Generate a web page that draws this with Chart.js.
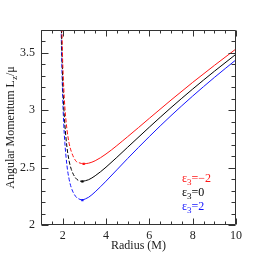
<!DOCTYPE html>
<html>
<head>
<meta charset="utf-8">
<script src="https://cdn.jsdelivr.net/npm/chart.js@4"></script>
<style>
html, body { margin: 0; padding: 0; background: #fff; }
#wrap { width: 266px; height: 266px; }
</style>
</head>
<body>
<div id="wrap"><canvas id="canvas" width="266" height="266"></canvas></div>
<script>
var xTicks = [2, 4, 6, 8, 10];
var yTicks = [2, 2.5, 3, 3.5];
var legendText = ['=\u22122', '=0', '=2'];

// unstable branch (dashed), left of the minimum
var rRedDash = [1.95, 2.0, 2.05, 2.1, 2.2, 2.3, 2.4, 2.6, 2.8, 2.97];
var redDash = [3.82, 3.43, 3.20, 3.03, 2.83, 2.71, 2.64, 2.56, 2.54, 2.533];
var rBlackDash = [1.94, 1.95, 2.0, 2.05, 2.1, 2.2, 2.3, 2.4, 2.6, 2.8, 2.91];
var blackDash = [3.76, 3.66, 3.28, 3.04, 2.88, 2.675, 2.557, 2.484, 2.409, 2.383, 2.380];
var rBlueDash = [1.93, 1.94, 1.95, 2.0, 2.05, 2.1, 2.2, 2.3, 2.4, 2.6, 2.8, 2.91];
var blueDash = [3.72, 3.60, 3.50, 3.12, 2.88, 2.72, 2.515, 2.397, 2.324, 2.249, 2.223, 2.217];

// stable branch (solid)
var rRed = [2.97, 3.2, 3.5, 4, 5, 6, 7, 8, 9, 10];
var red = [2.533, 2.539, 2.56, 2.619, 2.77, 2.93, 3.089, 3.243, 3.391, 3.535];
var rBlack = [2.91, 3.2, 3.5, 4, 5, 6, 7, 8, 9, 10];
var black = [2.380, 2.395, 2.429, 2.504, 2.678, 2.853, 3.023, 3.185, 3.340, 3.489];
var rBlue = [2.91, 3.2, 3.5, 4, 5, 6, 7, 8, 9, 10];
var blue = [2.217, 2.242, 2.289, 2.382, 2.580, 2.771, 2.953, 3.124, 3.286, 3.440];

var RED = 'rgb(255,20,20)';
var BLK = 'rgb(0,0,0)';
var BLU = 'rgb(20,20,255)';
var FONT = '"Liberation Serif", "DejaVu Serif", serif';

function pts(xs, ys) {
    return xs.map(function (x, i) { return { x: x, y: ys[i] }; });
}

function curve(color, xs, ys, dashed) {
    return {
        data: pts(xs, ys),
        borderColor: color,
        backgroundColor: color,
        borderWidth: 1,
        borderDash: dashed ? [4, 2] : [],
        pointRadius: 0,
        fill: false,
        cubicInterpolationMode: 'monotone'
    }
}

function marker(color, x, y) {
    return {
        data: [{ x: x, y: y }],
        showLine: false,
        pointStyle: 'rect',
        pointRadius: 1.6,
        borderWidth: 0,
        backgroundColor: color,
        borderColor: color
    }
}

var frame = {
    id: 'frame',
    afterDraw: function (chart) {
        var ctx = chart.ctx;
        var a = chart.chartArea;
        var xs = chart.scales.x, ys = chart.scales.y;
        var L = Math.round(a.left) + 0.5, R = Math.round(a.right) - 0.5;
        var T = Math.round(a.top) + 0.5, B = Math.round(a.bottom) - 0.5;
        ctx.save();
        ctx.strokeStyle = '#333';
        ctx.lineWidth = 1;
        ctx.beginPath();
        ctx.rect(L, T, R - L, B - T);
        // x ticks every 0.5, longer at 2,4,..
        for (var v = 1; v <= 10.001; v += 0.5) {
            var px = Math.round(xs.getPixelForValue(v)) + 0.5;
            var len = (xTicks.indexOf(v) >= 0) ? 6 : 3;
            ctx.moveTo(px, B); ctx.lineTo(px, B - len);
            ctx.moveTo(px, T); ctx.lineTo(px, T + len);
        }
        // y ticks every 0.1, longer at 0.5
        for (var k = 20; k <= 37; k++) {
            var yv = k / 10;
            var py = Math.round(ys.getPixelForValue(yv)) + 0.5;
            var ylen = (k % 5 == 0) ? 7 : 4;
            ctx.moveTo(L, py); ctx.lineTo(L + ylen, py);
            ctx.moveTo(R, py); ctx.lineTo(R - ylen, py);
        }
        ctx.stroke();

        // axis titles
        ctx.fillStyle = '#222';
        ctx.textBaseline = 'alphabetic';
        ctx.font = '12px ' + FONT;
        ctx.textAlign = 'center';
        ctx.fillText('Radius (M)', (a.left + a.right) / 2, 249);

        ctx.save();
        ctx.translate(14, (a.top + a.bottom) / 2);
        ctx.rotate(-Math.PI / 2);
        ctx.textAlign = 'left';
        var t1 = 'Angular Momentum L', t2 = 'z', t3 = '/\u03bc';
        ctx.font = '12px ' + FONT;
        var w1 = ctx.measureText(t1).width, w3 = ctx.measureText(t3).width;
        ctx.font = '9px ' + FONT;
        var w2 = ctx.measureText(t2).width;
        var x0 = -(w1 + w2 + w3) / 2;
        ctx.font = '12px ' + FONT;
        ctx.fillText(t1, x0, 0);
        ctx.font = '9px ' + FONT;
        ctx.fillText(t2, x0 + w1, 2.5);
        ctx.font = '12px ' + FONT;
        ctx.fillText(t3, x0 + w1 + w2, 0);
        ctx.restore();

        // legend
        var cols = [RED, BLK, BLU];
        var base = [182, 196, 210];
        ctx.textAlign = 'left';
        for (var i = 0; i < 3; i++) {
            var lx = 182;
            ctx.fillStyle = cols[i];
            ctx.font = '12px ' + FONT;
            ctx.fillText('\u03b5', lx, base[i]);
            lx += ctx.measureText('\u03b5').width;
            ctx.font = '9px ' + FONT;
            ctx.fillText('3', lx, base[i] + 2.5);
            lx += ctx.measureText('3').width;
            ctx.font = '12px ' + FONT;
            ctx.fillText(legendText[i], lx, base[i]);
        }
        ctx.restore();
    }
};

var config = {
    type: 'line',
    data: {
        datasets: [
            curve(RED, rRedDash, redDash, true),
            curve(BLK, rBlackDash, blackDash, true),
            curve(BLU, rBlueDash, blueDash, true),
            curve(RED, rRed, red, false),
            curve(BLK, rBlack, black, false),
            curve(BLU, rBlue, blue, false),
            marker(RED, rRed[0], red[0]),
            marker(BLK, rBlack[0], black[0]),
            marker(BLU, rBlue[0], blue[0])
        ]
    },
    options: {
        responsive: false,
        animation: false,
        events: [],
        layout: { padding: { top: 30, right: 30, left: 0, bottom: 0 } },
        plugins: { legend: { display: false }, tooltip: { enabled: false } },
        scales: {
            x: {
                type: 'linear',
                min: 1,
                max: 10,
                afterFit: function (s) { s.height = 41; },
                afterBuildTicks: function (s) { s.ticks = xTicks.map(function (v) { return { value: v }; }); },
                grid: { display: false, drawTicks: false },
                border: { display: false },
                ticks: { padding: 4, color: '#222', font: { family: FONT, size: 12 }, maxRotation: 0,
                    callback: function (v) { return String(v); } }
            },
            y: {
                type: 'linear',
                min: 2,
                max: 3.7,
                afterFit: function (s) { s.width = 41; },
                afterBuildTicks: function (s) { s.ticks = yTicks.map(function (v) { return { value: v }; }); },
                grid: { display: false, drawTicks: false },
                border: { display: false },
                ticks: { padding: 6, color: '#222', font: { family: FONT, size: 12 },
                    callback: function (v) { return String(v); } }
            }
        }
    },
    plugins: [frame]
};

var ctx = document.getElementById('canvas').getContext('2d');
var myChart = new Chart(ctx, config);
</script>
</body>
</html>
